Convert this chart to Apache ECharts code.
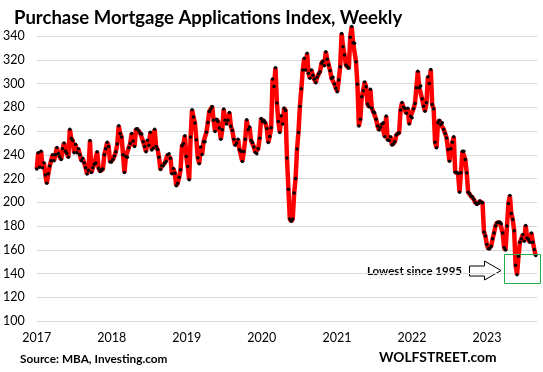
<!DOCTYPE html>
<html><head><meta charset="utf-8">
<script src="https://cdn.jsdelivr.net/npm/echarts@6/dist/echarts.min.js"></script>
<style>html,body{margin:0;padding:0;background:#fff}#c{width:543px;height:372px}</style>
</head><body><div id="c"></div>
<script>
// Weekly MBA Purchase Index (first week = start of 2017)
const startYear = 2017;
const weeksPerYear = 365.25 / 7;
const yearLabels = [2017, 2018, 2019, 2020, 2021, 2022, 2023];
const yMin = 100, yMax = 340, yStep = 20;

const part1 = [228, 241.7, 229.4, 243, 229, 233.3, 223, 216, 224, 230.5, 235, 240, 235, 240, 246.2, 241, 238.4, 236, 245, 250, 243, 241, 238, 261.4, 253.8, 252, 241.7, 248.8, 241.7, 245, 240, 235, 237, 233, 229, 223.8, 227, 251.9, 225, 229, 232, 233, 242.6, 228.5, 226, 227, 228, 240, 245, 250.5, 247, 234, 234, 236, 239, 242.6, 249, 264.5, 258, 255, 240, 225, 238.6, 238, 246, 249.5, 258, 251.5, 247, 261.7, 262, 260, 258, 257.5, 251, 247, 242.6, 252.3, 248, 259, 244, 245.5, 261.4, 247, 244.5, 238, 227.5];
const part2 = [230.7, 230.7, 233, 234.4, 240, 240.8, 237, 224, 228.5, 224.5, 214, 216, 221, 227.4, 247.6, 249.3, 256, 238.6, 230.2, 219, 254.9, 277.9, 271.7, 266.7, 252.6, 237.5, 232.4, 246.5, 240.3, 251, 251, 259, 267.2, 276.5, 278.5, 280.7, 269, 259.6, 270, 268, 262.5, 253, 261, 278.5, 269, 266, 269, 275.6, 263.9, 260.5, 253, 248, 250, 253, 244.2, 243, 234.4, 242.8, 253, 269.5, 261, 263.3, 252, 250.4, 246.5, 242, 240.8, 245, 253.8, 270.6, 268, 269, 267, 261.9, 250.4, 255.4, 262.7, 303.7, 297.5];
const part3 = [313.3, 283.5, 268, 258.8, 272.8, 266, 279.3, 277.3, 237.2, 211, 185.8, 183.9, 185.8, 207.7, 220, 244.8, 258.8, 280.7, 295.6, 311.4, 321.2, 311.4, 325.4, 308.6, 304.4, 311.4, 307, 303.5, 300.7, 305.2, 308, 310, 317, 319, 315, 326.8, 320.4, 315.6, 310.8, 304.4, 305.2, 299.6, 296, 293.1, 303, 314.2, 342.2, 331, 324, 315.6, 314.2, 312.8, 338.9, 347.9];
const part4 = [334.4, 333.8, 318.4, 299.3, 264.2, 269.8, 288.9, 294, 301.3, 297.3, 282.7, 280.5, 295.1, 279.1, 276.3, 275.4, 269.8, 264.2, 260.8, 263.1, 265.9, 267, 255.2, 272.6, 252.4, 251.9, 255.2, 248.2, 249, 251, 256.6, 258, 258.6, 277.7, 283.9, 280, 279.1, 274.9, 279.1, 265.9];
const part5 = [272.5, 271.1, 278.7, 283.2, 296.4, 310.4, 296.4, 297.8, 287.1, 280.9, 276.7, 283.7, 305.6, 300, 311.8, 282.3, 278.7, 250.6, 245.8, 266.9, 269.1, 265.5, 266.9, 261.3, 257.9, 254.2, 244.4, 234.6, 245, 250.6, 255.1, 225.3, 225.3, 224.2, 208.5, 224.8, 243, 243, 236, 224.8, 208.5, 207.4, 205.1, 204.6, 202.3, 199.5, 198.1, 199, 201, 200.1, 199.5, 174.8, 171.5, 164.4, 160.8, 160.8, 163, 169.2, 174.2, 179.9, 182.7, 183.2, 183.2, 182, 174.2, 161.6, 159.7, 179.9, 199, 205.7, 190.5, 185.5, 176, 147, 139, 154.6, 166.4, 169.2, 172.8, 167.2, 180.4, 170, 168.6, 166.4, 174.2, 166.4, 160.2, 155.2];

const values = [].concat(part1, part2, part3, part4, part5);
const data = values.map((v, i) => [startYear + i / weeksPerYear, v]);

const chart = echarts.init(document.getElementById('c'), null, {renderer: 'canvas'});
const font = 'Lato';
chart.setOption({
  animation: false,
  backgroundColor: '#fff',
  title: {
    text: 'Purchase Mortgage Applications Index, Weekly',
    left: 9, top: 4,
    textStyle: {fontFamily: font, fontWeight: 'bold', fontSize: 18.5, color: '#000'}
  },
  grid: {left: 35, right: 6, top: 36, bottom: 51},
  xAxis: {
    type: 'value', min: startYear, max: 2023.667, interval: 1,
    axisLine: {show: false}, axisTick: {show: false}, splitLine: {show: false},
    axisLabel: {showMaxLabel: false, fontFamily: font, fontSize: 12.5, color: '#000', margin: 10,
      formatter: v => (yearLabels.indexOf(v) >= 0 ? String(v) : '')}
  },
  yAxis: {
    type: 'value', min: yMin, max: yMax, interval: yStep,
    axisLine: {show: false}, axisTick: {show: false},
    splitLine: {lineStyle: {color: '#d9d9d9', width: 1}},
    axisLabel: {fontFamily: font, fontSize: 12.5, color: '#000', margin: 12}
  },
  series: [{
    type: 'line', data: data, clip: false,
    symbol: 'circle', symbolSize: 3.5, showAllSymbol: true,
    lineStyle: {color: '#ff0000', width: 4.5},
    itemStyle: {color: '#000'}
  }],
  graphic: [
    {type: 'text', x: 20, y: 359, style: {text: 'Source: MBA, Investing.com', font: 'bold 11.8px Lato', fill: '#000', textAlign: 'left', textVerticalAlign: 'middle'}},
    {type: 'text', x: 379, y: 358, style: {text: 'WOLFSTREET.com', font: 'bold 13.8px Lato', fill: '#000', textAlign: 'left', textVerticalAlign: 'middle'}},
    {type: 'text', x: 462, y: 271, style: {text: 'Lowest since 1995', font: 'bold 11.5px Lato', fill: '#000', textAlign: 'right', textVerticalAlign: 'middle'}},
    {type: 'polygon', shape: {points: [[469.5,266],[484.5,266],[484.5,261],[501,270.5],[484.5,280],[484.5,276],[469.5,276]]},
      style: {fill: '#fff', stroke: '#000', lineWidth: 1}},
    {type: 'rect', shape: {x: 504.5, y: 254.5, width: 36, height: 29}, style: {fill: 'none', stroke: '#1fae4b', lineWidth: 1}, z: 10}
  ]
});
</script>
</body></html>
